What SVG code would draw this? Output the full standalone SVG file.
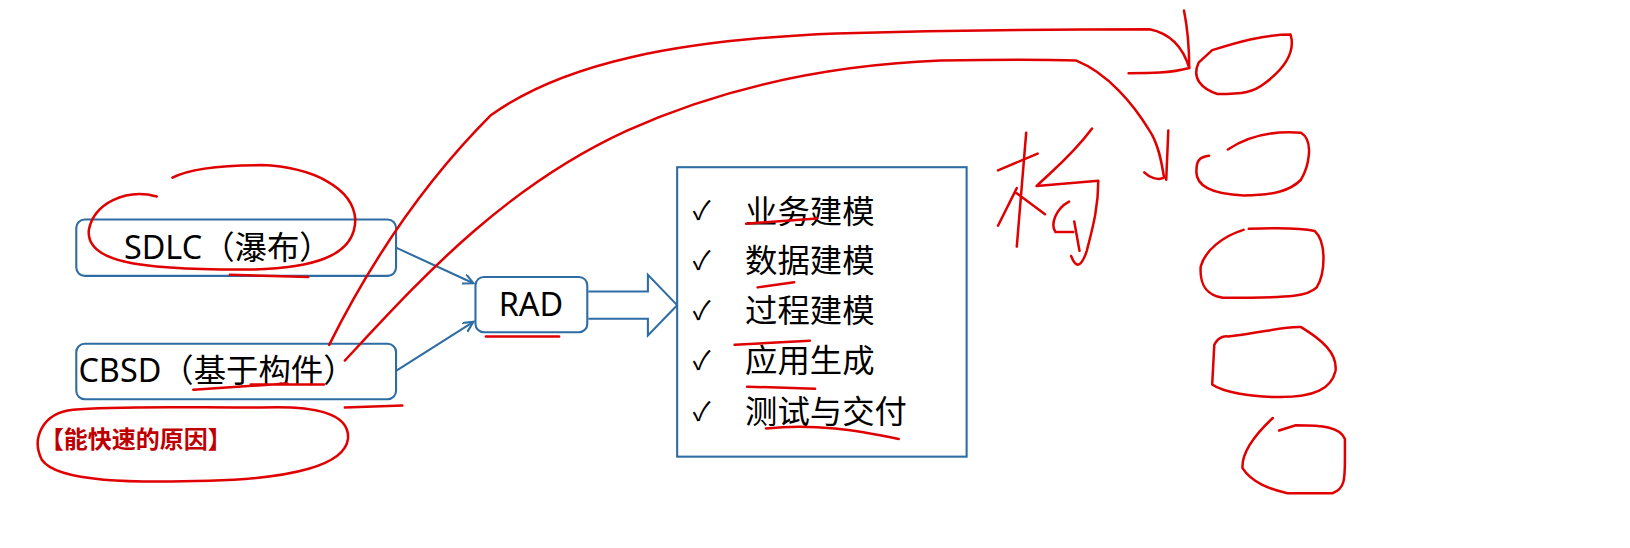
<svg xmlns="http://www.w3.org/2000/svg" width="1630" height="548" viewBox="0 0 1630 548">
<style>
.box{fill:#fff;stroke:#2e6da4;stroke-width:2}
.t{font-family:"Noto Sans","Noto Sans CJK SC",sans-serif;font-size:31px;fill:#000}
.ink{fill:none;stroke:#e00000;stroke-width:2.4;stroke-linecap:round;stroke-linejoin:round}
.con{stroke:#2e6da4;stroke-width:2;fill:none}
</style>
<defs><marker id="ah" markerWidth="12" markerHeight="12" refX="10" refY="5" orient="auto" markerUnits="userSpaceOnUse"><path d="M0,0 L10,5 L0,10" fill="none" stroke="#2e6da4" stroke-width="2"/></marker></defs>
<rect width="1630" height="548" fill="#fff"/>
<g transform="scale(1.045)">
<g id="connectors">
<line class="con" x1="379" y1="237" x2="453" y2="271" marker-end="url(#ah)"/>
<line class="con" x1="379" y1="355" x2="453" y2="308" marker-end="url(#ah)"/>
<path class="con" d="M563,279 H620 V263 L648,292 L620,321 V305 H563"/>
</g>
<g id="sdlc"><rect class="box" x="73" y="210" width="306" height="54" rx="8"/><text class="t" x="218" y="248" text-anchor="middle">SDLC（瀑布）</text></g>
<g id="cbsd"><rect class="box" x="73" y="329" width="306" height="53" rx="8"/><text class="t" x="75" y="366">CBSD（基于构件）</text></g>
<g id="rad"><rect class="box" x="455" y="265" width="107" height="53" rx="8"/><text class="t" x="508" y="302" text-anchor="middle">RAD</text></g>
<g id="list"><rect x="648" y="160" width="277" height="277" fill="#fff" stroke="#2e6da4" stroke-width="2"/>
<g class="t"><text x="663" y="211" font-size="25">✓</text><text x="713" y="213">业务建模</text>
<text x="663" y="258" font-size="25">✓</text><text x="713" y="260">数据建模</text>
<text x="663" y="306" font-size="25">✓</text><text x="713" y="308">过程建模</text>
<text x="663" y="354" font-size="25">✓</text><text x="713" y="356">应用生成</text>
<text x="663" y="403" font-size="25">✓</text><text x="713" y="405">测试与交付</text></g></g>
<g id="reason"><text x="38" y="429" font-family="Noto Sans CJK SC,sans-serif" font-size="23" font-weight="bold" fill="#c00000">【能快速的原因】</text></g>
<g id="ink">
<path class="ink" d="M150,188 C120,180 90,195 85,220 C82,250 130,258 230,258 C300,258 340,245 340,210 C338,180 300,160 250,158 C210,158 180,162 165,170"/>
<path class="ink" d="M220,263 L295,265"/>
<path class="ink" d="M185,373 L275,367 M240,368 L310,368 M330,390 L385,388"/>
<path class="ink" d="M465,322 L535,322"/>
<path class="ink" d="M714,214 L782,209 M725,275 L760,270 M703,330 L775,326 M715,370 L780,372 M733,410 C780,405 820,412 860,420"/>
<path class="ink" d="M70,392 C40,395 30,420 40,440 C55,462 130,462 200,460 C280,458 330,445 333,420 C335,395 300,388 250,390 C180,390 110,388 70,392"/>
<path class="ink" d="M315,330 C350,260 400,180 470,110 C540,60 650,38 800,32 C950,28 1030,28 1100,28 C1120,32 1132,45 1138,65 C1120,70 1100,70 1080,70"/>
<path class="ink" d="M1133,10 C1136,25 1138,45 1138,65"/>
<path class="ink" d="M330,345 C400,270 480,180 600,125 C700,80 800,62 900,58 C960,57 1000,57 1030,58 C1060,70 1085,100 1100,125 C1110,140 1112,160 1114,170 C1108,173 1100,170 1095,165"/>
<path class="ink" d="M1118,125 L1116,172"/>
<g transform="translate(-45,0)">
<path class="ink" d="M1000,163 L1038,147 M1027,127 L1018,236 M1018,180 L1000,216 M1018,185 L1045,205 M1090,123 C1070,150 1050,165 1037,178 L1096,173 C1096,200 1090,220 1085,240 C1080,255 1075,258 1070,245 M1068,193 C1055,200 1050,215 1055,222 L1072,222 M1073,212 L1078,240"/>
</g>
<path class="ink" d="M1160,48 C1185,40 1210,33 1235,33 C1240,50 1230,65 1210,80 C1200,88 1190,90 1165,90 C1150,85 1140,75 1147,60 Z"/>
<path class="ink" d="M1175,143 C1195,130 1220,125 1245,127 C1258,135 1252,160 1245,172 C1235,182 1220,187 1190,187 C1160,186 1143,178 1145,162 C1145,152 1150,150 1157,149"/>
<path class="ink" d="M1195,219 C1220,218 1245,218 1258,221 C1270,232 1268,262 1260,275 C1252,283 1240,285 1170,285 C1152,282 1148,270 1149,255 C1153,240 1170,226 1190,220"/>
<path class="ink" d="M1175,322 C1210,318 1230,312 1245,313 C1265,325 1280,338 1278,355 C1274,372 1258,380 1225,380 C1195,380 1170,375 1160,368 L1162,330 C1167,320 1175,322 1175,322"/>
<path class="ink" d="M1218,400 C1202,415 1188,432 1189,448 C1198,462 1215,468 1232,472 L1275,472 C1287,468 1287,458 1287,440 L1287,420 C1282,408 1265,407 1240,407 L1224,412"/>
</g>
</g>
</svg>
